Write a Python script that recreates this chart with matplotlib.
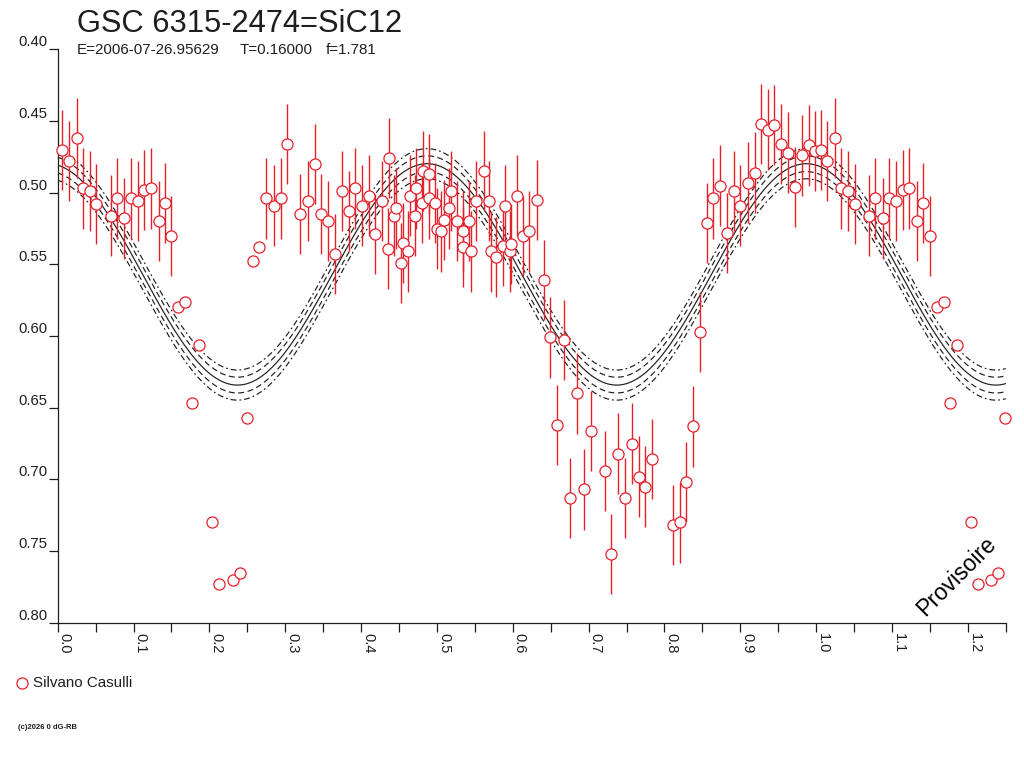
import matplotlib
matplotlib.use("Agg")
import matplotlib.pyplot as plt
import numpy as np
from matplotlib.lines import Line2D

# ---------------- data ----------------
phase = [0.006, 0.015, 0.025, 0.033, 0.042, 0.051, 0.070, 0.078, 0.088, 0.096,
         0.106, 0.114, 0.123, 0.133, 0.141, 0.150, 0.159, 0.168, 0.177, 0.186,
         0.204, 0.213, 0.231, 0.240, 0.249, 0.258, 0.266, 0.275, 0.285, 0.294,
         0.303, 0.320, 0.330, 0.339, 0.347, 0.357, 0.365, 0.375, 0.384, 0.392,
         0.401, 0.410, 0.419, 0.428, 0.435, 0.437, 0.444, 0.446, 0.453, 0.455,
         0.462, 0.464, 0.471, 0.473, 0.480, 0.482, 0.489, 0.489, 0.498, 0.500,
         0.506, 0.509, 0.516, 0.518, 0.527, 0.534, 0.535, 0.542, 0.545, 0.552,
         0.562, 0.569, 0.571, 0.578, 0.587, 0.590, 0.597, 0.598, 0.605, 0.614,
         0.622, 0.632, 0.641, 0.649, 0.659, 0.668, 0.676, 0.685, 0.694, 0.703,
         0.721, 0.730, 0.739, 0.748, 0.757, 0.766, 0.775, 0.784, 0.811, 0.820,
         0.829, 0.838, 0.847, 0.856, 0.864, 0.873, 0.882, 0.892, 0.900, 0.910,
         0.919, 0.927, 0.937, 0.945, 0.954, 0.963, 0.972, 0.981, 0.990, 0.999]
mag = [0.470, 0.478, 0.462, 0.497, 0.499, 0.508, 0.516, 0.504, 0.518, 0.504,
       0.506, 0.498, 0.497, 0.520, 0.507, 0.530, 0.580, 0.576, 0.647, 0.606,
       0.730, 0.773, 0.770, 0.765, 0.657, 0.548, 0.538, 0.504, 0.509, 0.504,
       0.466, 0.515, 0.506, 0.480, 0.515, 0.520, 0.543, 0.499, 0.513, 0.497,
       0.509, 0.502, 0.529, 0.506, 0.539, 0.476, 0.516, 0.511, 0.549, 0.535,
       0.541, 0.502, 0.516, 0.497, 0.507, 0.485, 0.487, 0.504, 0.507, 0.525,
       0.527, 0.519, 0.511, 0.499, 0.520, 0.538, 0.527, 0.520, 0.541, 0.506,
       0.485, 0.506, 0.541, 0.545, 0.537, 0.509, 0.541, 0.536, 0.502, 0.530,
       0.527, 0.505, 0.561, 0.601, 0.662, 0.603, 0.713, 0.640, 0.707, 0.666,
       0.694, 0.752, 0.682, 0.713, 0.675, 0.698, 0.705, 0.686, 0.732, 0.730,
       0.702, 0.663, 0.597, 0.521, 0.504, 0.495, 0.528, 0.499, 0.509, 0.493,
       0.486, 0.452, 0.456, 0.453, 0.466, 0.472, 0.496, 0.474, 0.467, 0.471]
err = [0.028] * 16 + [0.0] * 11 + [0.028] * 93

# fitted light-curve model shown in the chart (mean, semi-amplitude, phase of maximum, cycle length in phase)
fit_mean = 0.557
fit_semi_amp = 0.0772
fit_max_phase = 0.487
fit_cycle = 0.5
band_inner = 0.0055
band_outer = 0.0105

x_ticks = [0.0, 0.1, 0.2, 0.3, 0.4, 0.5, 0.6, 0.7, 0.8, 0.9, 1.0, 1.1, 1.2]
x_tick_labels = ["0.0", "0.1", "0.2", "0.3", "0.4", "0.5", "0.6", "0.7", "0.8",
                 "0.9", "1.0", "1.1", "1.2"]
y_ticks = [0.40, 0.45, 0.50, 0.55, 0.60, 0.65, 0.70, 0.75, 0.80]
y_tick_labels = ["0.40", "0.45", "0.50", "0.55", "0.60", "0.65", "0.70", "0.75", "0.80"]

title = "GSC 6315-2474=SiC12"
sub_e = "E=2006-07-26.95629"
sub_t = "T=0.16000"
sub_f = "f=1.781"
observer = "Silvano Casulli"
stamp = "(c)2026 0 dG-RB"
watermark = "Provisoire"
phase_max = 1.25

# ---------------- figure ----------------
plt.rcParams['font.family'] = ['Liberation Sans', 'DejaVu Sans']
RED = '#e6202a'
INK = '#1e1e1e'
W, H = 1024, 768

fig = plt.figure(figsize=(W / 100, H / 100), dpi=100)
ax = fig.add_axes([57.7 / W, 1 - 622.8 / H, 948 / W, 573.5 / H])

ph = np.array(phase)
mg = np.array(mag)
er = np.array(err)
# repeat the beginning of the cycle after phase 1
rep = ph + 1.0 <= phase_max
ph_all = np.concatenate([ph, ph[rep] + 1.0])
mg_all = np.concatenate([mg, mg[rep]])
er_all = np.concatenate([er, er[rep]])

# fit curve and its bands
xc = np.linspace(0, phase_max, 800)
yc = fit_mean - fit_semi_amp * np.cos(2 * np.pi * (xc - fit_max_phase) / fit_cycle)
ax.plot(xc, yc, color=INK, lw=0.85, zorder=1)
for s in (-1, 1):
    ax.plot(xc, yc + s * band_inner, color=INK, lw=0.85, ls=(0, (5, 3)), zorder=1)
    ax.plot(xc, yc + s * band_outer, color=INK, lw=0.85, ls=(0, (5, 2.5, 1.5, 2.5)), zorder=1)

has_err = er_all > 0
ax.errorbar(ph_all[has_err], mg_all[has_err], yerr=er_all[has_err], fmt='none',
            ecolor=RED, elinewidth=1.0, capsize=0, zorder=2, clip_on=False)
ax.plot(ph_all, mg_all, 'o', ms=8.0, mfc='white', mec=RED, mew=0.9, ls='none',
        zorder=3, clip_on=False)

ax.set_xlim(0, phase_max)
ax.set_ylim(0.80, 0.40)

for side in ('top', 'right'):
    ax.spines[side].set_visible(False)
for side in ('left', 'bottom'):
    ax.spines[side].set_linewidth(0.9)
    ax.spines[side].set_color(INK)

ax.set_xticks(x_ticks)
ax.set_xticks(np.arange(0.05, phase_max + 0.001, 0.1), minor=True)
ax.set_xticklabels(x_tick_labels, rotation=270, ha='left', va='top',
                   fontsize=10.5, color=INK)
ax.set_yticks(y_ticks)
ax.set_yticklabels(y_tick_labels, va='bottom', fontsize=10.7, color=INK)
ax.tick_params(axis='x', which='both', direction='out', length=6.5, width=0.9,
               color=INK, pad=1.2)
ax.tick_params(axis='y', which='both', direction='out', length=6.8, width=0.9,
               color=INK, pad=0.8)

# texts
fig.text(77 / W, 1 - 31.7 / H, title, fontsize=22.2, color=INK, va='baseline')
fig.text(77 / W, 1 - 54 / H, sub_e, fontsize=10.9, color=INK, va='baseline')
fig.text(240 / W, 1 - 54 / H, sub_t, fontsize=10.9, color=INK, va='baseline')
fig.text(326 / W, 1 - 54 / H, sub_f, fontsize=10.9, color=INK, va='baseline')

fig.add_artist(Line2D([22.3 / W], [1 - 682.7 / H], marker='o', ms=8.0, mfc='white',
                      mec=RED, mew=0.9, ls='none', transform=fig.transFigure))
fig.text(33.3 / W, 1 - 687.3 / H, observer, fontsize=10.9, color=INK, va='baseline')
fig.text(18 / W, 1 - 728.7 / H, stamp, fontsize=5.5, color=INK, va='baseline',
         fontweight='bold')
fig.text(957 / W, 1 - 576 / H, watermark, rotation=45, ha='center', va='center',
         fontsize=16.5, color='black')

fig.savefig("out.png", dpi=100)
